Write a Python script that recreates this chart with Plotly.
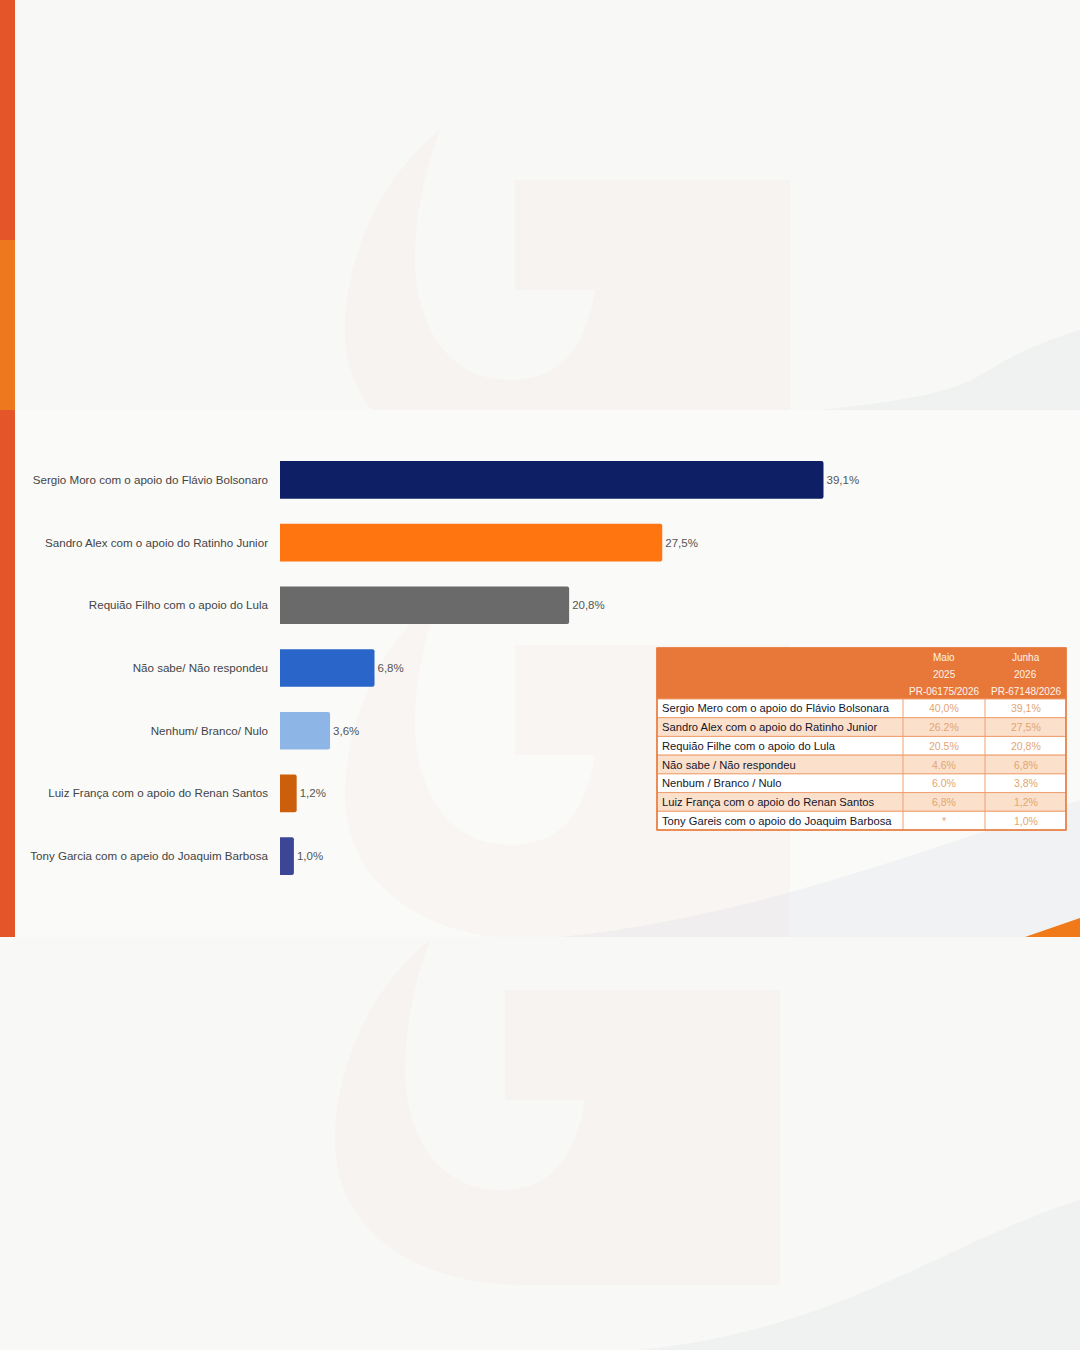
import plotly.graph_objects as go

# ---------------- data ----------------
categories = [
    "Sergio Moro com o apoio do Flávio Bolsonaro",
    "Sandro Alex com o apoio do Ratinho Junior",
    "Requião Filho com o apoio do Lula",
    "Não sabe/ Não respondeu",
    "Nenhum/ Branco/ Nulo",
    "Luiz França com o apoio do Renan Santos",
    "Tony Garcia com o apeio do Joaquim Barbosa",
]
values = [39.1, 27.5, 20.8, 6.8, 3.6, 1.2, 1.0]
value_labels = ["39,1%", "27,5%", "20,8%", "6,8%", "3,6%", "1,2%", "1,0%"]
bar_colors = ["#0E1F66", "#FF7510", "#6A6A6A", "#2A66C9", "#8DB5E6", "#CC5F0B", "#3D4596"]

table_rows = [
    "Sergio Mero com o apoio do Flávio Bolsonara",
    "Sandro Alex com o apoio do Ratinho Junior",
    "Requião Filhe com o apoio do Lula",
    "Não sabe / Não respondeu",
    "Nenbum / Branco / Nulo",
    "Luiz França com o apoio do Renan Santos",
    "Tony Gareis com o apoio do Joaquim Barbosa",
]
header_maio = ["Maio", "2025", "PR-06175/2026"]
header_junho = ["Junha", "2026", "PR-67148/2026"]
maio_2025 = ["40,0%", "26.2%", "20.5%", "4.6%", "6.0%", "6,8%", "*"]
junho_2026 = ["39,1%", "27,5%", "20,8%", "6,8%", "3,8%", "1,2%", "1,0%"]

W, H = 1080, 1350
FONT = "Liberation Sans, Arial, sans-serif"
PAGE_BG = "#F8F8F6"

fig = go.Figure()

fig.add_trace(go.Bar(
    x=values,
    y=categories,
    orientation="h",
    marker=dict(color=bar_colors, line=dict(width=0), cornerradius=2),
    text=value_labels,
    textposition="outside",
    cliponaxis=False,
    textfont=dict(family=FONT, size=11.5, color="#555555"),
    width=0.6,
    hoverinfo="skip",
    showlegend=False,
))

shapes = []
annotations = []


def px(x):
    return x / W


def py(y):
    return 1 - y / H


def path_from(points_cmds):
    parts = []
    for cmd, pts in points_cmds:
        if cmd == "Z":
            parts.append("Z")
        else:
            parts.append(cmd + " " + " ".join(f"{px(x):.5f},{py(y):.5f}" for x, y in pts))
    return " ".join(parts)


def g_mark(bx, by):
    pts = [
        ("M", [(bx + 95, by)]),
        ("C", [(bx + 20, by + 60), (bx, by + 150), (bx, by + 200)]),
        ("C", [(bx, by + 290), (bx + 80, by + 345), (bx + 190, by + 345)]),
        ("L", [(bx + 445, by + 345)]),
        ("L", [(bx + 445, by + 50)]),
        ("L", [(bx + 170, by + 50)]),
        ("L", [(bx + 170, by + 160)]),
        ("L", [(bx + 250, by + 160)]),
        ("C", [(bx + 240, by + 220), (bx + 215, by + 250), (bx + 165, by + 250)]),
        ("C", [(bx + 100, by + 250), (bx + 70, by + 190), (bx + 70, by + 130)]),
        ("C", [(bx + 70, by + 80), (bx + 82, by + 35), (bx + 95, by)]),
        ("Z", []),
    ]
    return path_from(pts)


def swoosh(y_top, y_bot, x_start):
    return path_from([
        ("M", [(x_start, y_bot)]),
        ("C", [(x_start + 200, y_bot - 20), (950, y_top + 40), (1080, y_top)]),
        ("L", [(1080, y_bot)]),
        ("Z", []),
    ])


G_FILL = "rgba(235,95,75,0.03)"
SW_FILL = "rgba(190,198,215,0.14)"

# ---- decorative page elements (ordered so each panel clips the previous one) ----
# top panel
shapes.append(dict(type="path", xref="paper", yref="paper", path=g_mark(345, 130),
                   fillcolor=G_FILL, line=dict(width=0), layer="below"))
shapes.append(dict(type="path", xref="paper", yref="paper", path=swoosh(330, 410, 820),
                   fillcolor=SW_FILL, line=dict(width=0), layer="below"))
# middle panel (chart)
shapes.append(dict(type="rect", xref="paper", yref="paper", x0=px(15), x1=1, y0=py(937), y1=py(410),
                   fillcolor="#FAFAF9", line=dict(width=0), layer="below"))
shapes.append(dict(type="path", xref="paper", yref="paper", path=g_mark(345, 595),
                   fillcolor=G_FILL, line=dict(width=0), layer="below"))
shapes.append(dict(type="path", xref="paper", yref="paper", path=swoosh(800, 937, 560),
                   fillcolor=SW_FILL, line=dict(width=0), layer="below"))
# bottom panel
shapes.append(dict(type="rect", xref="paper", yref="paper", x0=0, x1=1, y0=0, y1=py(937),
                   fillcolor=PAGE_BG, line=dict(width=0), layer="below"))
shapes.append(dict(type="path", xref="paper", yref="paper", path=g_mark(335, 940),
                   fillcolor=G_FILL, line=dict(width=0), layer="below"))
shapes.append(dict(type="path", xref="paper", yref="paper", path=swoosh(1200, 1350, 640),
                   fillcolor=SW_FILL, line=dict(width=0), layer="below"))
# left accent strip
shapes.append(dict(type="rect", xref="paper", yref="paper", x0=0, x1=px(15), y0=py(937), y1=1,
                   fillcolor="#E4552A", line=dict(width=0), layer="below"))
shapes.append(dict(type="rect", xref="paper", yref="paper", x0=0, x1=px(15), y0=py(410), y1=py(240),
                   fillcolor="#EE781E", line=dict(width=0), layer="below"))
# bottom-right orange accent
shapes.append(dict(type="path", xref="paper", yref="paper",
                   path=path_from([("M", [(1025, 937)]), ("L", [(1080, 918)]), ("L", [(1080, 937)]), ("Z", [])]),
                   fillcolor="#F07A1A", line=dict(width=0), layer="below"))

# ---- table (drawn with shapes + annotations) ----
tx0, tx1 = 657, 1066
col1, col2 = 903, 985
hy0, hy1 = 648, 699
row_h = (830 - 699) / len(table_rows)
ORANGE = "#E8783A"

shapes.append(dict(type="rect", xref="paper", yref="paper", x0=px(tx0), x1=px(tx1), y0=py(hy1), y1=py(hy0),
                   fillcolor=ORANGE, line=dict(color=ORANGE, width=1)))
for i, (lab, a, b) in enumerate(zip(table_rows, maio_2025, junho_2026)):
    y0 = hy1 + i * row_h
    y1 = y0 + row_h
    fill = "#FFFFFF" if i % 2 == 0 else "#FBE0CC"
    shapes.append(dict(type="rect", xref="paper", yref="paper", x0=px(tx0), x1=px(tx1), y0=py(y1), y1=py(y0),
                       fillcolor=fill, line=dict(color="#EFA070", width=1)))
    yc = py((y0 + y1) / 2)
    annotations.append(dict(xref="paper", yref="paper", x=px(tx0 + 3), y=yc, text=lab, showarrow=False,
                            xanchor="left", yanchor="middle",
                            font=dict(family=FONT, size=11.2, color="#15152A")))
    annotations.append(dict(xref="paper", yref="paper", x=px((col1 + col2) / 2), y=yc, text=a, showarrow=False,
                            xanchor="center", yanchor="middle",
                            font=dict(family=FONT, size=10.5, color="#E2A672")))
    annotations.append(dict(xref="paper", yref="paper", x=px((col2 + tx1) / 2), y=yc, text=b, showarrow=False,
                            xanchor="center", yanchor="middle",
                            font=dict(family=FONT, size=10.5, color="#E2A672")))
for cx in (col1, col2):
    shapes.append(dict(type="line", xref="paper", yref="paper", x0=px(cx), x1=px(cx), y0=py(830), y1=py(hy1),
                       line=dict(color="#EFA070", width=1)))
shapes.append(dict(type="rect", xref="paper", yref="paper", x0=px(tx0), x1=px(tx1), y0=py(830), y1=py(hy0),
                   fillcolor="rgba(0,0,0,0)", line=dict(color=ORANGE, width=1.5)))

for k, (m, j) in enumerate(zip(header_maio, header_junho)):
    yc = py(657 + k * 17)
    annotations.append(dict(xref="paper", yref="paper", x=px((col1 + col2) / 2), y=yc, text=m, showarrow=False,
                            xanchor="center", yanchor="middle",
                            font=dict(family=FONT, size=10, color="#FFF3EA")))
    annotations.append(dict(xref="paper", yref="paper", x=px((col2 + tx1) / 2), y=yc, text=j, showarrow=False,
                            xanchor="center", yanchor="middle",
                            font=dict(family=FONT, size=10, color="#FFF3EA")))

fig.update_layout(
    width=W,
    height=H,
    paper_bgcolor=PAGE_BG,
    plot_bgcolor="rgba(0,0,0,0)",
    margin=dict(l=0, r=0, t=0, b=0),
    font=dict(family=FONT, size=12, color="#444444"),
    shapes=shapes,
    annotations=annotations,
    xaxis=dict(
        domain=[280 / W, 975 / W],
        range=[0, 50],
        showgrid=False, zeroline=False, showticklabels=False, showline=False,
        fixedrange=True,
    ),
    yaxis=dict(
        domain=[1 - 887.5 / H, 1 - 448.5 / H],
        categoryorder="array",
        categoryarray=categories[::-1],
        showgrid=False, zeroline=False, showline=False,
        ticks="", ticklabelstandoff=11,
        tickfont=dict(family=FONT, size=11.6, color="#444444"),
        fixedrange=True,
    ),
)

fig.write_html(
    "out.html",
    config={"displayModeBar": False},
    post_script="document.body.style.margin='0';document.body.style.overflow='hidden';",
)
